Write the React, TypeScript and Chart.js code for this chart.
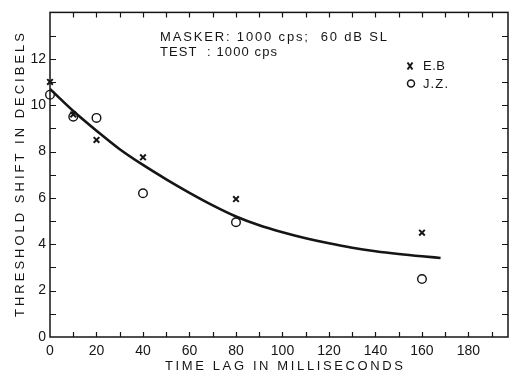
import React, { useEffect, useRef } from "react";
import { Chart, registerables } from "chart.js";

Chart.register(...registerables);

// Data
const timeLag = [0, 10, 20, 40, 80, 160];
const ebShift = [11.0, 9.6, 8.5, 7.75, 5.95, 4.5];
const jzShift = [10.45, 9.5, 9.45, 6.2, 4.95, 2.5];
const curveLag = [0, 10, 20, 30, 40, 50, 60, 70, 80, 90, 100, 110, 120, 130, 140, 150, 160, 168];
const curveShift = [10.7, 9.75, 8.9, 8.1, 7.42, 6.8, 6.22, 5.68, 5.2, 4.82, 4.52, 4.26, 4.04, 3.85, 3.7, 3.58, 3.48, 3.41];
const xTickLabels = [0, 20, 40, 60, 80, 100, 120, 140, 160, 180];
const yTickLabels = [0, 2, 4, 6, 8, 10, 12];
const seriesNames = ["E.B", "J.Z."];
const noteLines = ["MASKER: 1000 cps;  60 dB SL", "TEST  : 1000 cps"];
const xTitle = "TIME LAG IN MILLISECONDS";
const yTitle = "THRESHOLD SHIFT IN DECIBELS";

const INK = "#151515";
const FONT = "'Liberation Sans', 'DejaVu Sans', sans-serif";

function fitText(ctx: CanvasRenderingContext2D, text: string, x: number, y: number, width: number) {
  (ctx as any).letterSpacing = "0px";
  const w = ctx.measureText(text).width;
  const n = [...text].length;
  const sp = n > 1 ? (width - w) / (n - 1) : 0;
  (ctx as any).letterSpacing = sp + "px";
  ctx.textAlign = "left";
  ctx.fillText(text, x, y);
  (ctx as any).letterSpacing = "0px";
}

const framePlugin = {
  id: "frame",
  beforeDraw(chart: any) {
    const { ctx } = chart;
    ctx.save();
    ctx.fillStyle = "#ffffff";
    ctx.fillRect(0, 0, chart.width, chart.height);
    ctx.restore();
  },
  beforeDatasetsDraw(chart: any) {
    const { ctx, chartArea, scales } = chart;
    const { left, right, top, bottom } = chartArea;
    const x = scales.x;
    const y = scales.y;
    ctx.save();
    ctx.strokeStyle = INK;
    ctx.lineWidth = 1.5;
    ctx.strokeRect(left, top, right - left, bottom - top);
    ctx.lineWidth = 1.2;
    ctx.beginPath();
    for (let v = 10; v <= 190; v += 10) {
      const px = Math.round(x.getPixelForValue(v)) + 0.5;
      ctx.moveTo(px, bottom);
      ctx.lineTo(px, bottom - 5);
      ctx.moveTo(px, top);
      ctx.lineTo(px, top + 5);
    }
    for (let v = 1; v <= 13; v++) {
      const py = Math.round(y.getPixelForValue(v)) + 0.5;
      ctx.moveTo(left, py);
      ctx.lineTo(left + 6, py);
      ctx.moveTo(right, py);
      ctx.lineTo(right - 6, py);
    }
    ctx.stroke();
    ctx.restore();
  },
  afterDraw(chart: any) {
    const { ctx } = chart;
    ctx.save();
    ctx.fillStyle = INK;
    ctx.textBaseline = "middle";
    ctx.font = `13px ${FONT}`;
    fitText(ctx, noteLines[0], 160, 37, 227);
    fitText(ctx, noteLines[1], 160, 52, 117);
    // legend
    ctx.font = `13px ${FONT}`;
    fitText(ctx, seriesNames[0], 423, 66, 22);
    fitText(ctx, seriesNames[1], 423, 84, 25);
    ctx.strokeStyle = INK;
    ctx.lineWidth = 2;
    ctx.beginPath();
    ctx.moveTo(407.5, 62.5);
    ctx.lineTo(412.5, 69.5);
    ctx.moveTo(412.5, 62.5);
    ctx.lineTo(407.5, 69.5);
    ctx.stroke();
    ctx.lineWidth = 1.5;
    ctx.beginPath();
    ctx.arc(411, 83.5, 3.5, 0, Math.PI * 2);
    ctx.stroke();
    // axis titles
    ctx.font = `13px ${FONT}`;
    fitText(ctx, xTitle, 165, 366, 238);
    ctx.translate(20, 175);
    ctx.rotate(-Math.PI / 2);
    fitText(ctx, yTitle, -142, 0, 284);
    ctx.restore();
  },
};

export default function App() {
  const ref = useRef<HTMLCanvasElement | null>(null);
  useEffect(() => {
    document.body.style.margin = "0";
    const canvas = ref.current!;
    const chart = new Chart(canvas, {
      type: "scatter",
      data: {
        datasets: [
          {
            label: "fit",
            data: curveLag.map((v, i) => ({ x: v, y: curveShift[i] })),
            showLine: true,
            borderColor: INK,
            borderWidth: 2.6,
            pointRadius: 0,
            cubicInterpolationMode: "monotone",
            fill: false,
          } as any,
          {
            label: seriesNames[0],
            data: timeLag.map((v, i) => ({ x: v, y: ebShift[i] })),
            pointStyle: "crossRot",
            pointRadius: 4,
            borderColor: INK,
            borderWidth: 2,
            clip: false,
          } as any,
          {
            label: seriesNames[1],
            data: timeLag.map((v, i) => ({ x: v, y: jzShift[i] })),
            pointStyle: "circle",
            pointRadius: 4.3,
            borderColor: INK,
            backgroundColor: "rgba(255,255,255,0)",
            borderWidth: 1.4,
            clip: false,
          } as any,
        ],
      },
      options: {
        animation: false,
        responsive: false,
        devicePixelRatio: 1,
        layout: { padding: { top: 10, right: 6, left: 0, bottom: 0 } },
        plugins: { legend: { display: false }, tooltip: { enabled: false } },
        scales: {
          x: {
            type: "linear",
            min: 0,
            max: 197,
            grid: { display: false, drawTicks: false },
            border: { display: false },
            ticks: {
              stepSize: 10,
              autoSkip: false,
              maxRotation: 0,
              padding: 6,
              color: INK,
              font: { family: FONT, size: 14 },
              callback: (v: any) => (xTickLabels.includes(Number(v)) ? String(v) : ""),
            },
            afterFit: (s: any) => {
              s.height = 39;
            },
          },
          y: {
            type: "linear",
            min: 0,
            max: 14,
            grid: { display: false, drawTicks: false },
            border: { display: false },
            ticks: {
              stepSize: 1,
              autoSkip: false,
              padding: 4,
              color: INK,
              font: { family: FONT, size: 14 },
              callback: (v: any) => (yTickLabels.includes(Number(v)) ? String(v) : ""),
            },
            afterFit: (s: any) => {
              s.width = 50;
            },
          },
        },
      } as any,
      plugins: [framePlugin],
    });
    return () => chart.destroy();
  }, []);
  return (
    <div style={{ position: "fixed", left: 0, top: 0, width: 514, height: 376 }}>
      <canvas ref={ref} width={514} height={376} />
    </div>
  );
}
